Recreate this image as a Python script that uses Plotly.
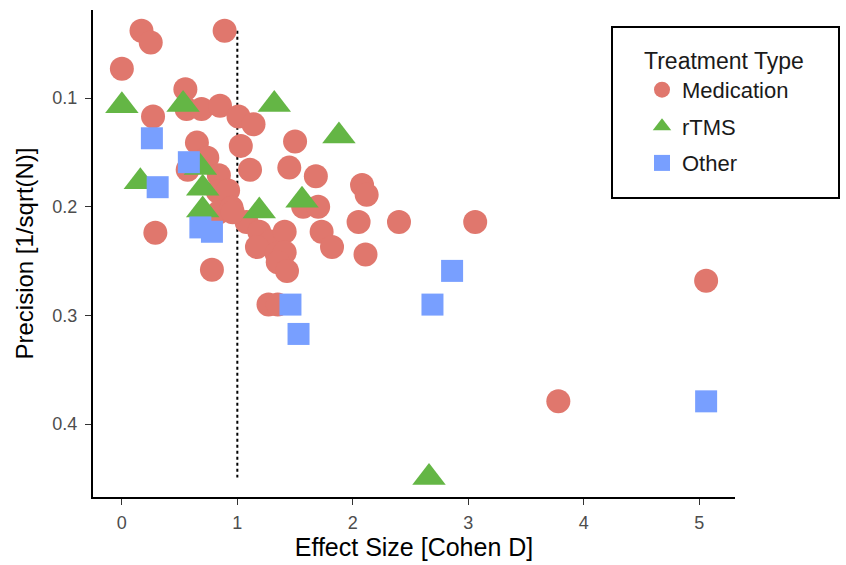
import plotly.graph_objects as go

# Medication
med_x = [0.17, 0.25, 0.89, 0.00, 0.55, 0.27, 0.56, 0.69, 0.85, 1.01, 1.14, 1.50, 1.03, 0.65,
         0.74, 0.57, 1.11, 1.45, 1.68, 2.08, 2.12, 0.84, 0.83, 0.92, 0.84, 0.95, 1.08, 1.57,
         1.70, 2.05, 2.40, 3.06, 0.29, 1.73, 1.82, 2.11, 1.19, 1.29, 1.41, 1.17, 1.34, 1.41,
         1.35, 1.43, 0.78, 1.27, 1.35, 3.78, 5.06, 0.96]
med_y = [0.038, 0.049, 0.038, 0.073, 0.092, 0.117, 0.110, 0.110, 0.107, 0.117, 0.124, 0.140,
         0.144, 0.141, 0.155, 0.166, 0.166, 0.164, 0.172, 0.180, 0.189, 0.171, 0.186, 0.185,
         0.205, 0.201, 0.214, 0.200, 0.200, 0.214, 0.214, 0.214, 0.224, 0.223, 0.237, 0.244,
         0.223, 0.232, 0.223, 0.237, 0.243, 0.242, 0.251, 0.259, 0.258, 0.290, 0.290, 0.379,
         0.268, 0.205]
# rTMS
rtms_x = [0.00, 0.53, 1.32, 1.88, 0.16, 0.68, 0.70, 0.70, 1.19, 1.56, 2.66]
rtms_y = [0.107, 0.106, 0.106, 0.135, 0.177, 0.164, 0.183, 0.203, 0.204, 0.194, 0.449]
# Other
oth_x = [0.26, 0.58, 0.31, 0.68, 0.78, 1.46, 1.53, 2.69, 2.86, 5.06]
oth_y = [0.137, 0.159, 0.182, 0.219, 0.223, 0.290, 0.317, 0.290, 0.259, 0.379]

ref_x = 1.0
x_ticks = [0, 1, 2, 3, 4, 5]
y_ticks = [0.1, 0.2, 0.3, 0.4]
y_tick_text = ["0.1", "0.2", "0.3", "0.4"]

all_y = med_y + rtms_y + oth_y
FONT = "Liberation Sans, Arial, sans-serif"

fig = go.Figure()
fig.add_trace(go.Scatter(x=[ref_x, ref_x], y=[min(all_y), max(all_y)], mode="lines",
                         line=dict(color="black", width=2, dash="dot"),
                         showlegend=False, hoverinfo="skip"))
fig.add_trace(go.Scatter(x=med_x, y=med_y, mode="markers", name="Medication", legendgroup="a",
                         marker=dict(symbol="circle", size=24, color="#E0776D", line=dict(width=0))))
fig.add_trace(go.Scatter(x=rtms_x, y=rtms_y, mode="markers", name="rTMS", legendgroup="b",
                         marker=dict(symbol="triangle-up", size=29, color="#64B645", line=dict(width=0))))
fig.add_trace(go.Scatter(x=oth_x, y=oth_y, mode="markers", name="Other", legendgroup="c",
                         marker=dict(symbol="square", size=22, color="#789FFF", line=dict(width=0))))

# legend frame
fig.add_shape(type="rect", xref="paper", yref="paper",
              x0=(612 - 93) / 642, x1=(839 - 93) / 642,
              y0=(497 - 198) / 487, y1=(497 - 27) / 487,
              line=dict(color="black", width=2), fillcolor="white", layer="below")

fig.update_layout(
    width=846, height=565,
    margin=dict(l=93, r=111, t=10, b=68),
    paper_bgcolor="white", plot_bgcolor="rgba(0,0,0,0)",
    font=dict(family=FONT, color="black"),
    legend=dict(
        title=dict(text="Treatment Type", font=dict(size=23, color="#1a1a1a")),
        font=dict(size=22, color="#1a1a1a"),
        x=(642 - 93) / 642, y=(497 - 39) / 487, xanchor="left", yanchor="top",
        borderwidth=0, bgcolor="rgba(0,0,0,0)",
        traceorder="grouped", tracegroupgap=5,
    ),
)
fig.update_xaxes(range=[-0.25, 5.31], tickvals=x_ticks, showgrid=False, zeroline=False,
                 showline=True, linecolor="black", linewidth=2, ticks="outside",
                 ticklen=6, tickcolor="#333333", tickfont=dict(size=18, color="#4D4D4D"),
                 ticklabelstandoff=2,
                 title=dict(text="Effect Size [Cohen D]", font=dict(size=25), standoff=6))
fig.update_yaxes(range=[0.467, 0.019], tickvals=y_ticks, ticktext=y_tick_text, showgrid=False,
                 zeroline=False, showline=True, linecolor="black", linewidth=2, ticks="outside",
                 ticklen=6, tickcolor="#333333", tickfont=dict(size=18, color="#4D4D4D"),
                 ticklabelstandoff=4,
                 title=dict(text="Precision [1/sqrt(N)]", font=dict(size=24), standoff=12))

fig.write_html("out.html", post_script="document.body.style.margin='0';",
               config={"displayModeBar": False})
